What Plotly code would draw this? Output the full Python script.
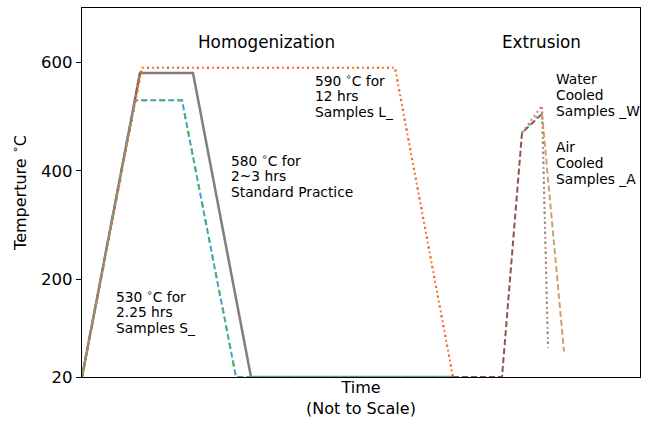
import plotly.graph_objects as go

# Time positions (arbitrary, not to scale) and temperatures
std_t = [0, 58, 111, 169, 371]
std_T = [20, 580, 580, 20, 20]

s_t = [0, 53, 100, 154, 371]
s_T = [20, 530, 530, 20, 20]

l_t = [0, 60, 313, 371]
l_T = [20, 590, 590, 20]

rise_t = [0, 58]
rise_T = [20, 580]

ext_t = [371, 420, 440, 460]
ext_T = [20, 20, 470, 505]

air_t = [460, 482]
air_T = [505, 67]

water_t = [440, 460, 466]
water_T_red = [470, 520, 74]
water_T_green = [470, 510, 74]

ytick_vals = [20, 200, 400, 600]

FONT = "DejaVu Sans"

fig = go.Figure()

def line(x, y, color, dash, width=2):
    fig.add_trace(go.Scatter(x=x, y=y, mode="lines",
                             line=dict(color=color, dash=dash, width=width),
                             hoverinfo="skip", showlegend=False))

line(std_t, std_T, "#7f7f7f", "solid", 2.5)
line(rise_t, rise_T, "#8c564b", "6px,3px", 2)
line(s_t, s_T, "#4c9fc4", "6px,3px", 2)
line(s_t, s_T, "#4fb07a", "6px,12px", 2)
line(l_t, l_T, "#ff7f0e", "2px,3px", 2)
line(l_t, l_T, "#ec5f4a", "2px,8px", 2)
line(ext_t, ext_T, "#8c564b", "6px,3px", 2)
line(air_t, air_T, "#d2a06e", "6px,3px", 2)
line(water_t, water_T_red, "#e8707a", "2px,3px", 2)
line(water_t, water_T_green, "#4fb07a", "2px,8px", 2)

deg = "<sup>∘</sup>"
LINE_STEP = 29.6  # temperature units between text lines

def txt(x, y, s, size=13.8, xanchor="left"):
    fig.add_annotation(x=x, y=y, xref="x", yref="y", text=s, showarrow=False,
                       xanchor=xanchor, yanchor="middle", align="left",
                       font=dict(family=FONT, size=size, color="black"))

def block(x, y_mid, lines):
    n = len(lines)
    for i, s in enumerate(lines):
        txt(x, y_mid + ((n - 1) / 2 - i) * LINE_STEP, s)

block(231, 538, ["590 " + deg + "C for", "12 hrs", "Samples L_"])
block(147, 391, ["580 " + deg + "C for", "2~3 hrs", "Standard Practice"])
block(32, 139, ["530 " + deg + "C for", "2.25 hrs", "Samples S_"])
block(472, 540, ["Water", "Cooled", "Samples _W"])
block(472, 415, ["Air", "Cooled", "Samples _A"])
txt(184, 637, "Homogenization", size=16.8, xanchor="center")
txt(459, 637, "Extrusion", size=16.8, xanchor="center")

fig.update_layout(
    width=649, height=424,
    margin=dict(l=82, r=9, t=8, b=47),
    plot_bgcolor="white", paper_bgcolor="white",
    font=dict(family=FONT, size=16, color="black"),
    xaxis=dict(range=[0, 558], showgrid=False, zeroline=False,
               showticklabels=False, ticks="",
               showline=True, linecolor="black", linewidth=1.2, mirror=True,
               title=dict(text="Time<br>(Not to Scale)", standoff=4,
                          font=dict(family=FONT, size=16))),
    yaxis=dict(range=[20, 700], showgrid=False, zeroline=False,
               tickvals=ytick_vals, ticktext=[str(v) for v in ytick_vals],
               ticks="outside", ticklen=5, tickcolor="black",
               showline=True, linecolor="black", linewidth=1.2, mirror=True,
               tickfont=dict(family=FONT, size=16.5),
               title=dict(text="Temperture " + deg + "C", standoff=10,
                          font=dict(family=FONT, size=16))),
)

fig.write_html("out.html")
